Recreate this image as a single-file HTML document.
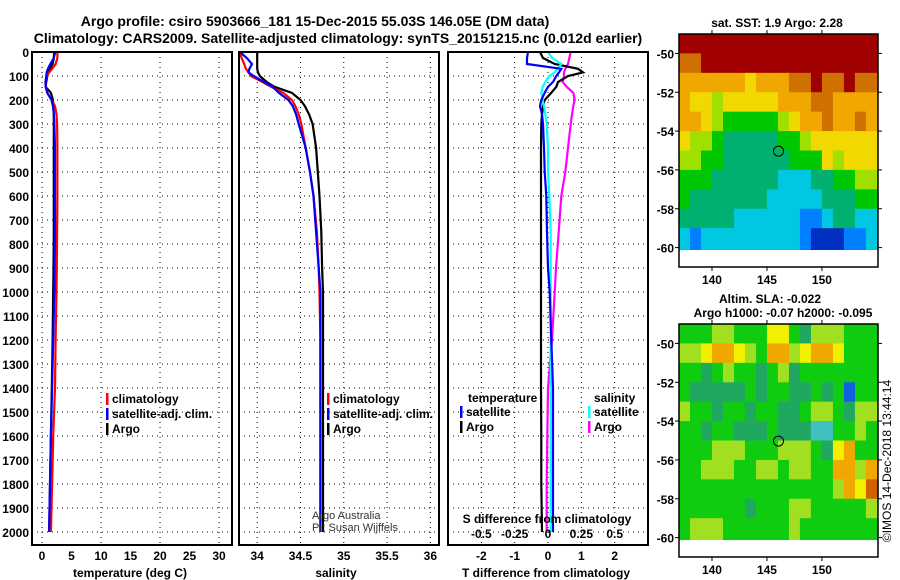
<!DOCTYPE html>
<html><head><meta charset="utf-8"><style>
body{margin:0;background:#fff}
svg{display:block;font-family:"Liberation Sans",sans-serif;font-weight:bold}
</style></head><body>
<svg id="c" width="900" height="580" viewBox="0 0 900 580">
<text x="315" y="26" font-size="14" text-anchor="middle">Argo profile: csiro 5903666_181 15-Dec-2015 55.03S 146.05E (DM data)</text>
<text x="338" y="43" font-size="14" text-anchor="middle">Climatology: CARS2009. Satellite-adjusted climatology: synTS_20151215.nc (0.012d earlier)</text>
</svg>
<script>
// ---- data ----
const depths = [0,25,50,70,85,100,125,145,170,200,225,260,300,400,500,600,750,900,1000,1200,1400,1600,1800,2000];
const tempArgo = [2.05,2.0,1.8,1.3,1.1,0.9,0.7,0.6,1.5,1.85,1.95,2.0,2.0,2.0,2.0,2.0,2.0,1.95,1.9,1.8,1.65,1.5,1.35,1.2];
const tempClim = [2.6,2.6,2.3,1.7,1.2,0.8,0.55,0.65,0.9,1.6,2.2,2.45,2.55,2.6,2.6,2.6,2.55,2.5,2.45,2.3,2.2,1.9,1.7,1.5];
const tempSat = [2.25,2.0,1.4,1.0,0.8,0.7,0.6,0.6,0.9,1.6,1.85,2.0,2.1,2.2,2.2,2.2,2.2,2.15,2.1,1.9,1.7,1.5,1.35,1.2];
const salArgo = [34.0,34.0,34.0,34.0,34.01,34.03,34.11,34.2,34.4,34.5,34.55,34.6,34.64,34.68,34.7,34.72,34.74,34.75,34.76,34.76,34.76,34.76,34.76,34.76];
const salClim = [33.8,33.82,33.85,33.87,33.9,33.93,34.06,34.16,34.3,34.4,34.44,34.48,34.51,34.56,34.61,34.65,34.69,34.71,34.72,34.73,34.73,34.73,34.73,34.73];
const salSat = [33.8,33.88,33.94,33.91,33.9,33.96,34.08,34.18,34.25,34.36,34.41,34.45,34.48,34.56,34.61,34.65,34.68,34.71,34.73,34.73,34.73,34.73,34.73,34.73];
const dTArgo = [-0.24,-0.15,0.2,0.9,1.05,0.6,0.3,0.25,0.1,-0.1,-0.15,-0.18,-0.2,-0.21,-0.21,-0.21,-0.21,-0.21,-0.21,-0.21,-0.21,-0.2,-0.2,-0.18];
const dTSat = [-0.6,-0.63,-0.63,0.4,0.33,0.25,0.15,0.0,-0.1,-0.2,-0.24,-0.18,-0.15,-0.12,-0.1,-0.05,-0.03,0.0,0.05,0.1,0.15,0.15,0.15,0.15];
const dSSat = [0.0,0.03,0.1,0.07,0.05,0.01,-0.02,-0.04,-0.05,-0.04,-0.03,-0.02,-0.01,0.0,0.0,0.01,0.02,0.02,0.02,0.02,0.02,0.02,0.02,0.02];
const dSArgo = [0.17,0.16,0.15,0.13,0.12,0.12,0.11,0.14,0.19,0.2,0.19,0.18,0.17,0.15,0.13,0.1,0.08,0.06,0.05,0.03,0.0,-0.005,-0.01,-0.01];
const depthTicks = [0,100,200,300,400,500,600,700,800,900,1000,1100,1200,1300,1400,1500,1600,1700,1800,1900,2000];
const tTicks = [0,5,10,15,20,25,30];
const sTicks = [34,34.5,35,35.5,36];
const dTTicks = [-2,-1,0,1,2];
const dSTicks = [-0.5,-0.25,0,0.25,0.5];
const latTicks = [-50,-52,-54,-56,-58,-60];
const lonTicks = [140,145,150];
// maps: rows lat -49..-60 (1deg), cols lon 137..155 (1deg)
const sstGrid = [
[9,9,9,9,9,9,9,9,9,9,9,9,9,9,9,9,9,9],
[8,8,9,9,9,9,9,9,9,9,9,9,9,9,9,9,9,9],
[7,7,7,7,7,7,6,7,7,7,8,8,9,8,8,9,8,8],
[7,6,6,5,6,6,6,6,6,7,7,7,8,8,7,7,7,7],
[7,7,6,5,4,4,4,4,4,5,6,7,7,8,7,7,8,7],
[6,5,5,4,3,3,3,3,3,4,4,5,6,6,6,6,6,6],
[5,5,4,4,3,3,3,3,3,3,4,4,4,6,5,6,6,6],
[4,4,4,3,3,3,3,3,3,2,2,2,3,3,4,4,5,5],
[4,3,3,3,3,3,3,3,2,2,2,2,2,3,3,3,4,4],
[3,3,3,3,3,2,2,2,2,2,2,1,1,2,3,3,2,2],
[2,1,2,2,2,2,2,2,2,2,2,1,0,0,0,1,1,2]];
const slaGrid = [
[3,3,3,4,4,3,3,3,5,5,3,2,4,4,4,3,3,3],
[4,4,5,6,6,5,4,3,6,6,4,5,6,6,5,3,3,3],
[3,3,2,3,4,3,3,2,3,4,2,3,3,3,3,3,3,3],
[3,2,2,2,2,2,3,2,3,3,2,2,3,2,3,0,3,3],
[4,3,3,2,3,3,2,3,3,2,2,3,4,4,3,2,4,4],
[3,3,2,3,3,2,2,2,3,2,2,2,1,1,3,3,4,3],
[3,3,3,4,4,4,3,3,3,4,4,4,3,2,5,6,3,3],
[3,3,4,4,4,3,3,4,4,3,4,4,3,3,6,6,4,6],
[3,3,3,3,3,3,3,3,3,3,3,3,3,3,4,6,5,7],
[3,3,3,3,3,3,2,3,3,3,4,4,3,3,3,3,3,4],
[3,4,4,4,3,3,3,3,3,3,4,3,3,3,3,3,3,3]];
const argoLon = 146.05, argoLat = -55.03;

const sstColors=['#0030c0','#0080ff','#00c8e0','#00b070','#00c800','#a0e000','#f0d800','#f0a800','#d07000','#a00000'];
const slaColors=['#1060e0','#40c0c0','#20a860','#10cc10','#a0e020','#f0f000','#f0a800','#d06000'];

const svg=document.getElementById('c');
const NS='http://www.w3.org/2000/svg';
function mk(tag,attrs,parent){const e=document.createElementNS(NS,tag);for(const k in attrs)e.setAttribute(k,attrs[k]);(parent||svg).appendChild(e);return e;}
function txt(x,y,s,size,anchor,parent,fill){const t=mk('text',{x:x,y:y,'font-size':size,'text-anchor':anchor||'start',fill:fill||'#000'},parent);t.textContent=s;return t;}
const yD=d=>52+d*0.24;
const TOP=52,BOT=545;

function panel(name,x0,x1,vmin,vmax){
  const g=mk('g',{});
  
  
  const sx=v=>x0+(v-vmin)/(vmax-vmin)*(x1-x0);
  return {g,sx,x0,x1};
}
function grid(p,xvals){
  xvals.forEach(v=>{const l=mk('line',{x1:p.sx(v),x2:p.sx(v),y1:TOP,y2:BOT,stroke:'#000','stroke-width':1,'stroke-dasharray':'1,4'},p.g);
    });
  depthTicks.forEach(d=>{const l=mk('line',{x1:p.x0,x2:p.x1,y1:yD(d),y2:yD(d),stroke:'#000','stroke-width':1,'stroke-dasharray':'1,4'},p.g);
    });
}
function series(p,vals,color,name,scale){
  const pts=vals.map((v,i)=>(scale?scale(v):p.sx(v)).toFixed(1)+','+yD(depths[i]).toFixed(1)).join(' ');
  const l=mk('polyline',{points:pts,fill:'none',stroke:color,'stroke-width':2.2},p.g);
  
  
}
function frame(p){const r=mk('rect',{x:p.x0,y:TOP,width:p.x1-p.x0,height:BOT-TOP,fill:'none',stroke:'#000','stroke-width':2},p.g);
  }
function legend(x,y,items,g){
  items.forEach((it,i)=>{const yy=y+i*15;
    const b=mk('rect',{x:x,y:yy-10,width:2.5,height:12,fill:it[1]},g);
    
    const t=txt(x+6,yy,it[0],12,'start',g);
    });
}

// Panel 1 temperature
const p1=panel('temperature-panel',32,232,-1.7,32.2);
grid(p1,[0,10,20,30]);
series(p1,tempArgo,'#000','argo-temperature-line');
series(p1,tempClim,'#f00','climatology-temperature-line');
series(p1,tempSat,'#00f','satellite-temperature-line');
frame(p1);
depthTicks.forEach(d=>{const t=txt(29,yD(d)+5,String(d),12,'end',p1.g);});
tTicks.forEach(v=>{const t=txt(p1.sx(v),560,String(v),12,'middle',p1.g);});
let at=txt(130,577,'temperature (deg C)',12,'middle',p1.g);
legend(106,403,[['climatology','#f00'],['satellite-adj. clim.','#00f'],['Argo','#000']],p1.g);

// Panel 2 salinity
const p2=panel('salinity-panel',239,439,33.79,36.1);
grid(p2,sTicks);
series(p2,salArgo,'#000','argo-salinity-line');
series(p2,salClim,'#f00','climatology-salinity-line');
series(p2,salSat,'#00f','satellite-salinity-line');
frame(p2);
sTicks.forEach(v=>{const t=txt(p2.sx(v),560,String(v),12,'middle',p2.g);});
at=txt(336,577,'salinity',12,'middle',p2.g);
legend(327,403,[['climatology','#f00'],['satellite-adj. clim.','#00f'],['Argo','#000']],p2.g);
let cr=txt(312,519,'Argo Australia',11,'start',p2.g,'#333');cr.setAttribute('font-weight','normal');
cr=txt(312,531,'PI: Susan Wijffels',11,'start',p2.g,'#333');cr.setAttribute('font-weight','normal');

// Panel 3 differences
const p3=panel('difference-panel',448,648,-3,3);
const sS=v=>p3.sx(v*4);
grid(p3,dTTicks);
series(p3,dSArgo,'#f0f','argo-salinity-diff-line',sS);
series(p3,dTArgo,'#000','argo-temperature-diff-line');
series(p3,dSSat,'#0ff','satellite-salinity-diff-line',sS);
series(p3,dTSat,'#00f','satellite-temperature-diff-line');
frame(p3);
dTTicks.forEach(v=>{const t=txt(p3.sx(v),560,String(v),12,'middle',p3.g);});
dSTicks.forEach(v=>{const t=txt(sS(v),538,String(v),12,'middle',p3.g);});
at=txt(547,523,'S difference from climatology',12,'middle',p3.g);
at=txt(546,577,'T difference from climatology',12,'middle',p3.g);
at=txt(468,402,'temperature',12,'start',p3.g);
legend(460,416,[['satellite','#00f'],['Argo','#000']],p3.g);
at=txt(594,402,'salinity',12,'start',p3.g);
legend(588,416,[['satellite','#0ff'],['Argo','#f0f']],p3.g);

// Maps
function map(name,top,gridv,colors,titles){
  const g=mk('g',{});
  
  
  const L=679,R=878,B=top+233;
  const mx=lon=>L+(lon-137)/(155.1-137)*(R-L);
  const my=lat=>top+(-49-lat)/12*(B-top);
  gridv.forEach((row,i)=>row.forEach((v,j)=>{
    const x0=mx(137+j),x1=mx(j==row.length-1?155.1:138+j);
    const y0=my(-49-i),y1=my(i==gridv.length-1?-60.1:-50-i);
    const c=mk('rect',{x:x0,y:y0,width:x1-x0+0.5,height:y1-y0+0.5,fill:colors[v]},g);
    
    
  }));
  const fr=mk('rect',{x:L,y:top,width:R-L,height:B-top,fill:'none',stroke:'#000','stroke-width':1.5},g);
  
  latTicks.forEach(v=>{mk('line',{x1:L-4,x2:L,y1:my(v),y2:my(v),stroke:'#000'},g);mk('line',{x1:R,x2:R+4,y1:my(v),y2:my(v),stroke:'#000'},g);
    const t=txt(L-5,my(v)+5,String(v),12,'end',g);});
  lonTicks.forEach(v=>{mk('line',{x1:mx(v),x2:mx(v),y1:top-4,y2:top,stroke:'#000'},g);mk('line',{x1:mx(v),x2:mx(v),y1:B,y2:B+4,stroke:'#000'},g);
    const t=txt(mx(v),B+17,String(v),12,'middle',g);});
  const c=mk('circle',{cx:mx(argoLon),cy:my(argoLat),r:5,fill:'none',stroke:'#000','stroke-width':1},g);
  
  titles.forEach((s,i)=>{const t=txt(titles.length==1?777:(i==0?770:783),top-(titles.length-i-1)*14-7,s,12,'middle',g);
    });
}
map('sst-map',34,sstGrid,sstColors,['sat. SST: 1.9 Argo: 2.28']);
map('sla-map',324,slaGrid,slaColors,['Altim. SLA: -0.022','Argo h1000: -0.07 h2000: -0.095']);
const st=txt(0,0,'©IMOS 14-Dec-2018 13:44:14',12,'middle');
st.setAttribute('font-weight','normal');
st.setAttribute('transform','translate(891,461) rotate(-90)');


</script>
</body></html>
